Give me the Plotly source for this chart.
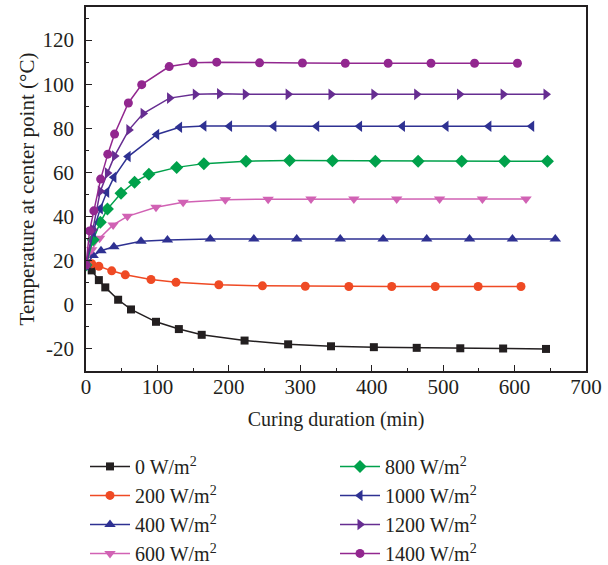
import plotly.graph_objects as go

# Curing duration (min) and centre-point temperature (°C) for each irradiance level
t_0 = [0, 8, 18, 27, 45, 63, 98, 130, 162, 222, 283, 343, 403, 463, 524, 584, 644]
T_0 = [18, 15.6, 11.2, 7.9, 2.3, -2.1, -7.7, -11, -13.6, -16.2, -17.9, -18.8, -19.2, -19.5, -19.7, -19.8, -20]

t_200 = [0, 8, 18, 36, 55, 91, 126, 186, 247, 307, 368, 428, 489, 549, 609]
T_200 = [19, 18.6, 17.5, 15.4, 13.6, 11.5, 10.2, 9.1, 8.6, 8.4, 8.3, 8.3, 8.3, 8.3, 8.3]

t_400 = [0, 10, 21, 39, 77, 114, 174, 235, 295, 356, 416, 477, 537, 597, 657]
T_400 = [18, 22.3, 24.5, 26.3, 28.8, 29.4, 29.8, 29.8, 29.8, 29.8, 29.8, 29.8, 29.8, 29.8, 29.8]

t_600 = [0, 8, 19, 38, 58, 98, 136, 195, 255, 315, 375, 435, 495, 555, 616]
T_600 = [18, 25, 30.2, 36.2, 40.1, 44.2, 46.5, 47.6, 47.9, 48, 48, 48, 48, 48, 48]

t_800 = [0, 10, 20, 30, 49, 68, 88, 127, 165, 224, 285, 345, 405, 465, 526, 586, 646]
T_800 = [18, 29.5, 37.4, 43.4, 50.6, 55.6, 59.2, 62.3, 64, 65.1, 65.4, 65.3, 65.1, 65.1, 65.1, 65.1, 65.1]

t_1000 = [0, 10, 20, 29, 39, 59, 99, 131, 165, 201, 263, 323, 383, 443, 504, 564, 624]
T_1000 = [18, 33, 43.6, 51, 57.8, 67.2, 77.2, 80.5, 81.1, 81, 80.9, 80.9, 80.9, 80.9, 80.9, 80.9, 80.9]

t_1200 = [0, 10, 20, 30, 40, 60, 80, 117, 153, 187, 223, 283, 343, 403, 463, 523, 584, 644]
T_1200 = [18, 34, 51.5, 59.7, 67.5, 79.3, 86.7, 93.7, 95.4, 95.7, 95.4, 95.4, 95.4, 95.4, 95.4, 95.4, 95.4, 95.4]

t_1400 = [0, 5, 11, 20.5, 30.5, 40, 59.3, 78, 116.5, 150, 183, 243, 303, 363, 423, 483, 544, 604]
T_1400 = [18, 33.5, 42.6, 57, 68.3, 77.4, 91.5, 99.8, 108, 109.7, 110, 109.7, 109.6, 109.5, 109.5, 109.5, 109.5, 109.5]

labels = ["0", "200", "400", "600", "800", "1000", "1200", "1400"]
times = [t_0, t_200, t_400, t_600, t_800, t_1000, t_1200, t_1400]
temps = [T_0, T_200, T_400, T_600, T_800, T_1000, T_1200, T_1400]

# y tick values and their labels (plain hyphen for negatives)
y_tickvals = [-20, 0, 20, 40, 60, 80, 100, 120]
y_ticktext = ["-20", "0", "20", "40", "60", "80", "100", "120"]

colors = ["#231f20", "#ef4a24", "#2e3192", "#d162b4", "#00a14b", "#2e3192", "#662d91", "#92278f"]
symbols = ["square", "circle", "triangle-up", "triangle-down", "diamond",
           "triangle-left", "triangle-right", "circle"]
sizes = [8, 9, 10, 10, 10, 10, 10, 9]

SERIF = "Liberation Serif"
INK = "#231f20"

fig = go.Figure()
for i, (lab, t, T) in enumerate(zip(labels, times, temps)):
    fig.add_trace(go.Scatter(
        x=t, y=T, mode="lines+markers",
        name=f"{lab} W/m<sup>2</sup>",
        line=dict(color=colors[i], width=1.5),
        marker=dict(symbol=symbols[i], size=sizes[i], color=colors[i]),
        legend="legend" if i < 4 else "legend2",
    ))

legend_style = dict(
    font=dict(family=SERIF, size=20, color=INK),
    bgcolor="rgba(0,0,0,0)",
    xref="paper", yref="container",
    yanchor="top", xanchor="left",
    orientation="v", tracegroupgap=0, itemwidth=40,
)

fig.update_layout(
    width=608, height=565,
    margin=dict(l=86, r=22, t=7, b=194, autoexpand=False),
    paper_bgcolor="white", plot_bgcolor="white",
    font=dict(family=SERIF, size=21, color=INK),
    legend=dict(x=-0.002, y=0.209, **legend_style),
    legend2=dict(x=0.498, y=0.209, **legend_style),
    xaxis=dict(
        range=[0, 700], dtick=100, tick0=0,
        ticks="inside", ticklen=6, tickwidth=1.3, tickcolor=INK,
        minor=dict(dtick=50, ticks="inside", ticklen=3, tickwidth=1.3, tickcolor=INK),
        showline=True, linecolor=INK, linewidth=1.8, mirror=True,
        showgrid=False, zeroline=False,
        ticklabelstandoff=-4,
        title=dict(text="Curing duration (min)", font=dict(size=20), standoff=14),
        tickfont=dict(size=21),
    ),
    yaxis=dict(
        range=[-30, 135], tickmode="array", tickvals=y_tickvals, ticktext=y_ticktext,
        ticks="inside", ticklen=6, tickwidth=1.3, tickcolor=INK,
        minor=dict(dtick=10, tick0=0, ticks="inside", ticklen=3, tickwidth=1.3, tickcolor=INK),
        showline=True, linecolor=INK, linewidth=1.8, mirror=True,
        showgrid=False, zeroline=False,
        ticklabelstandoff=6,
        title=dict(text="Temperature at center point (°C)", font=dict(size=21), standoff=2),
        tickfont=dict(size=21),
    ),
)

fig.write_html("out.html")
